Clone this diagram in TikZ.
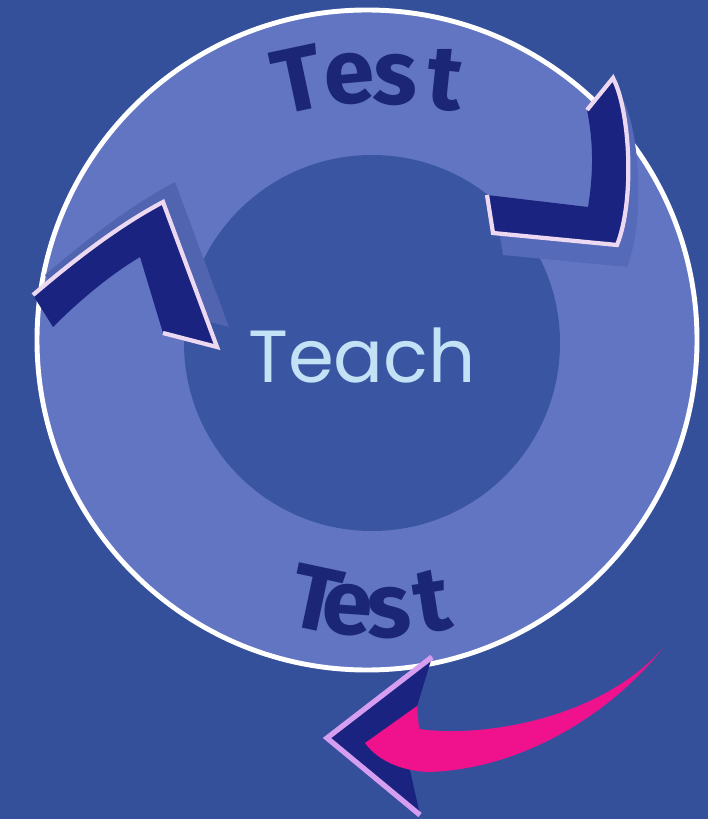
\documentclass[tikz,border=0pt]{standalone}
\usepackage{xcolor}
\usepackage{fontspec}
\setmainfont{Fira Sans}
\newfontfamily\softfont{Poppins}
\usepackage{tikz}

\definecolor{bgblue}{HTML}{35509B}
\definecolor{ringblue}{HTML}{6175C2}
\definecolor{coreblue}{HTML}{3A56A2}
\definecolor{navy}{HTML}{1B2380}
\definecolor{edgepink}{HTML}{EDD8F2}
\definecolor{hotpink}{HTML}{F0128C}
\definecolor{lilac}{HTML}{D69EF0}
\definecolor{textnavy}{HTML}{1C2676}
\definecolor{chalk}{HTML}{C4E2F6}
\definecolor{shadeL}{HTML}{5064B0}
\definecolor{shadeR}{HTML}{566ABA}

\tikzset{
  word/.style={text=textnavy, font=\fontsize{26pt}{30pt}\selectfont\bfseries, inner sep=0pt, anchor=base},
  teach/.style={text=chalk, font=\softfont\fontsize{21pt}{25pt}\selectfont, inner sep=0pt, anchor=base},
  rim/.style={edgepink, line width=1.2pt, line join=miter}
}

\begin{document}
\begin{tikzpicture}[x=0.01cm, y=-0.01cm]
            \fill[bgblue] (0,0) rectangle (708,819);
            \useasboundingbox (0,0) rectangle (708,819);

            \draw[white, line width=1.4pt, fill=ringblue] (367,340) circle (330); % ring
            \fill[coreblue] (372,343) circle (188); % core

            % shadows
            \fill[shadeL, shift={(12,-20)}] (33,295) .. controls (80,255) and (120,225) .. (163,202) -- (217,347) -- (163,333) -- (140,257) .. controls (110,275) and (80,300) .. (53,327) -- cycle;
            \fill[shadeR, shift={(10,22)}] (587,110) -- (613,78) .. controls (630,110) and (635,200) .. (617,245) -- (493,233) -- (487,195) -- (588,207) .. controls (594,170) and (593,140) .. (587,110) -- cycle;

            % left chevron
            \fill[navy] (33,295) .. controls (80,255) and (120,225) .. (163,202) -- (217,347) -- (163,333) -- (140,257) .. controls (110,275) and (80,300) .. (53,327) -- cycle;
            \draw[rim] (33,295) .. controls (80,255) and (120,225) .. (163,202) -- (217,347) -- (163,333);

            % right chevron
            \fill[navy] (587,110) -- (613,78) .. controls (630,110) and (635,200) .. (617,245) -- (493,233) -- (487,195) -- (588,207) .. controls (594,170) and (593,140) .. (587,110) -- cycle;
            \draw[rim] (587,110) -- (613,78) .. controls (630,110) and (635,200) .. (617,245) -- (493,233) -- (487,195);

            % words
            \foreach \nm/\ch/\px/\py/\rot in {tT/T/305/110/12, te/e/352/103/5, ts/s/395/104/-2, tt/t/442/109/-6,
                                             bT/T/310/630/-12, be/e/346/634/-4, bs/s/391/637/3, bt/t/437/631/9}
              \node[word, rotate=\rot] (\nm) at (\px,\py) {\ch};
            \node[teach] (core) at (362,383) {Teach};

            % bottom arrow
            \fill[navy] (432,657) -- (327,738) -- (420,815) -- (410,770) -- (395,740) -- (415,713) -- cycle;
            \draw[lilac, line width=1.5pt] (432,657) -- (327,738) -- (420,815);
            \fill[hotpink] (365,743) -- (417,706) -- (419,729) .. controls (480,738) and (600,720) .. (663,648) .. controls (610,715) and (520,770) .. (427,772) .. controls (395,770) and (375,757) .. (365,743) -- cycle;
        \end{tikzpicture}
\end{document}
